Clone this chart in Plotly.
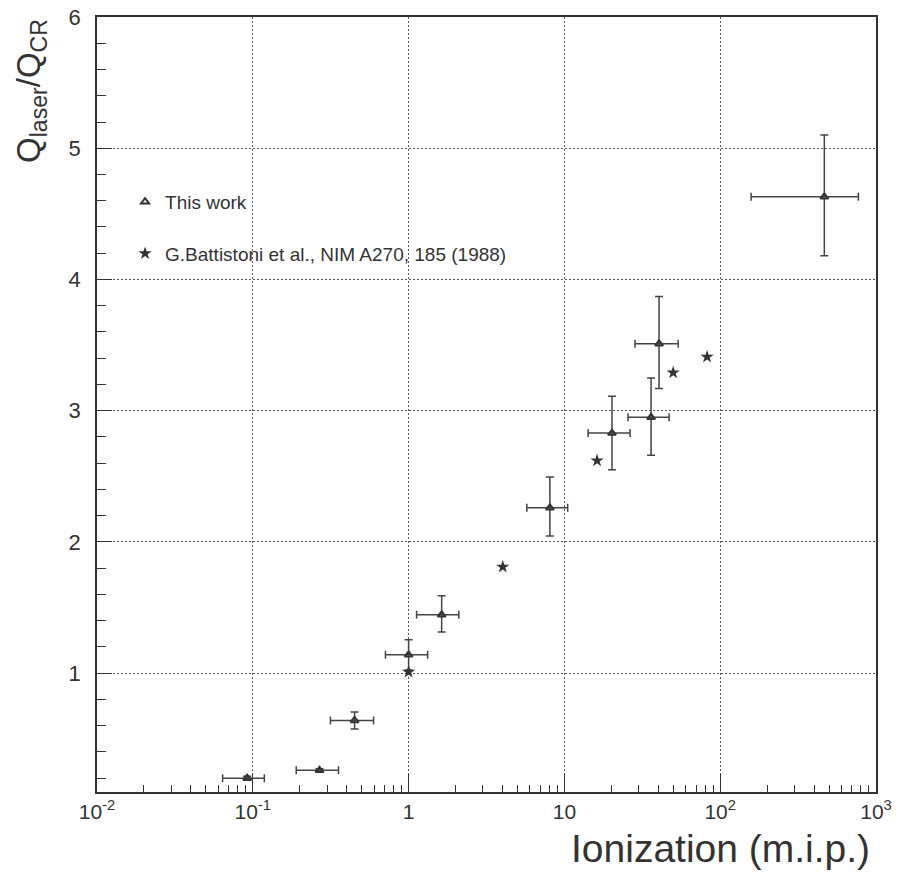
import plotly.graph_objects as go

# --- data ---
# "This work"
tw_x = [0.092, 0.268, 0.45, 1.0, 1.63, 8.07, 20.2, 36.0, 40.5, 466.0]
tw_y = [0.20, 0.26, 0.64, 1.14, 1.445, 2.26, 2.83, 2.95, 3.51, 4.63]
tw_x_low = [0.064, 0.19, 0.315, 0.71, 1.125, 5.74, 14.2, 25.6, 28.4, 158.0]
tw_x_high = [0.1186, 0.355, 0.596, 1.325, 2.10, 10.5, 26.4, 47.0, 53.7, 771.0]
tw_y_err_up = [0.015, 0.012, 0.065, 0.115, 0.145, 0.235, 0.28, 0.30, 0.36, 0.47]
tw_y_err_down = [0.015, 0.012, 0.065, 0.115, 0.13, 0.215, 0.28, 0.29, 0.34, 0.45]

# G.Battistoni et al.
gb_x = [1.0, 4.02, 16.2, 49.9, 82.4]
gb_y = [1.01, 1.81, 2.62, 3.29, 3.41]

x_tickvals = [0.01, 0.1, 1, 10, 100, 1000]
x_ticktext = ["10<sup>-2</sup>", "10<sup>-1</sup>", "1", "10", "10<sup>2</sup>", "10<sup>3</sup>"]
y_tickvals = [1, 2, 3, 4, 5, 6]

ink = "#333333"
font_family = "Liberation Sans, Arial, sans-serif"

fig = go.Figure()

fig.add_trace(go.Scatter(
    x=tw_x, y=tw_y, mode="markers", name="This work",
    legendgroup="a", legendrank=1,
    marker=dict(symbol="triangle-up-open", size=7, color=ink, line=dict(width=2, color=ink)),
    error_x=dict(type="data", symmetric=False,
                 array=[h - x for h, x in zip(tw_x_high, tw_x)],
                 arrayminus=[x - l for l, x in zip(tw_x_low, tw_x)],
                 color="#444444", thickness=1.5, width=4),
    error_y=dict(type="data", symmetric=False,
                 array=tw_y_err_up, arrayminus=tw_y_err_down,
                 color="#444444", thickness=1.5, width=4),
))

fig.add_trace(go.Scatter(
    x=gb_x, y=gb_y, mode="markers",
    name="G.Battistoni et al., NIM A270, 185 (1988)",
    legendgroup="b", legendrank=2,
    marker=dict(symbol="star", size=10, color=ink, line=dict(width=0)),
))

fig.update_layout(
    width=902, height=874,
    margin=dict(l=97, r=26, t=17, b=82, autoexpand=False),
    paper_bgcolor="white", plot_bgcolor="white",
    font=dict(family=font_family, color=ink, size=20),
    showlegend=True,
    legend=dict(x=0.036, y=0.786, xanchor="left", yanchor="top",
                bgcolor="rgba(0,0,0,0)", borderwidth=0,
                font=dict(size=19, family=font_family, color=ink),
                tracegroupgap=24, traceorder="grouped"),
    xaxis=dict(
        type="log", range=[-2, 3], automargin=False,
        tickvals=x_tickvals, ticktext=x_ticktext,
        ticks="inside", ticklen=18, tickwidth=1.2, tickcolor=ink,
        tickfont=dict(size=21, color=ink),
        showline=True, linecolor=ink, linewidth=1.5, mirror=True,
        showgrid=True, gridcolor="#555555", gridwidth=1, griddash="2px,2px",
        minor=dict(ticks="inside", ticklen=7, tickwidth=1.2, tickcolor=ink,
                   dtick="D1", showgrid=False),
        zeroline=False,
    ),
    yaxis=dict(
        range=[0.095, 6], automargin=False,
        tickvals=y_tickvals,
        ticks="inside", ticklen=15, tickwidth=1.2, tickcolor=ink,
        tickfont=dict(size=22, color=ink), ticklabelstandoff=10,
        showline=True, linecolor=ink, linewidth=1.5, mirror=True,
        showgrid=True, gridcolor="#555555", gridwidth=1, griddash="2px,2px",
        minor=dict(ticks="inside", ticklen=9, tickwidth=1.2, tickcolor=ink,
                   dtick=0.2, tick0=0, showgrid=False),
        zeroline=False,
    ),
    annotations=[
        dict(text="Q<sub>laser</sub>/Q<sub>CR</sub>", textangle=-90,
             xref="paper", yref="paper", x=-0.0847, y=1.0,
             xanchor="center", yanchor="top", showarrow=False,
             font=dict(size=33, family=font_family, color=ink)),
        dict(text="Ionization (m.i.p.)",
             xref="paper", yref="paper", x=0.995, y=-0.073,
             xanchor="right", yanchor="middle", showarrow=False,
             font=dict(size=39, family=font_family, color=ink)),
    ],
)

fig.write_html("out.html")
